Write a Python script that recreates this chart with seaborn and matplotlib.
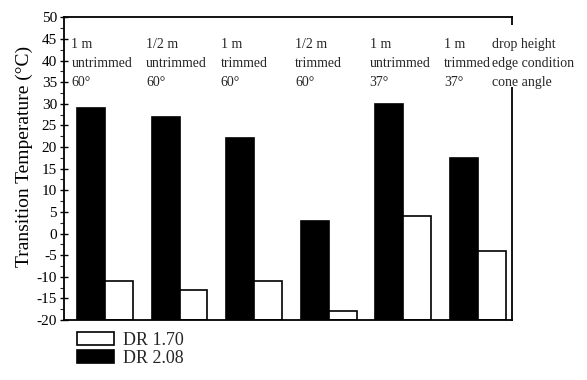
import matplotlib
matplotlib.use("Agg")
import matplotlib.pyplot as plt
from matplotlib.patches import Patch, Rectangle
from matplotlib.ticker import MultipleLocator
import pandas as pd
import seaborn as sns

# Test conditions (three header rows per test)
drop_height = ["1 m", "1/2 m", "1 m", "1/2 m", "1 m", "1 m"]
edge_condition = ["untrimmed", "untrimmed", "trimmed", "trimmed", "untrimmed", "trimmed"]
cone_angle = ["60°", "60°", "60°", "60°", "37°", "37°"]
header_labels = ["drop height", "edge condition", "cone angle"]

# Transition temperatures (°C)
dr_208 = [29, 27, 22, 3, 30, 17.5]
dr_170 = [-11, -13, -11, -18, 4, -4]
series_names = ["DR 2.08", "DR 1.70"]

tests = [f"{h} {e} {c}" for h, e, c in zip(drop_height, edge_condition, cone_angle)]
df = pd.DataFrame({
    "test": tests * 2,
    "DR": [series_names[0]] * len(tests) + [series_names[1]] * len(tests),
    "temp": dr_208 + dr_170,
})

sns.set_theme(style="white")
plt.rcParams["font.family"] = ["Liberation Serif", "DejaVu Serif"]
plt.rcParams["axes.unicode_minus"] = False

BASE = -20

fig = plt.figure(figsize=(5.87, 3.80), dpi=100)
ax = fig.add_axes([64 / 587, 1 - 320 / 380, (512 - 64) / 587, (320 - 17.3) / 380])

sns.barplot(
    data=df, x="test", y="temp", hue="DR", order=tests, hue_order=series_names,
    palette={"DR 2.08": "black", "DR 1.70": "white"},
    edgecolor="black", linewidth=1.2, width=0.75, gap=0,
    errorbar=None, legend=False, ax=ax,
)

# Bars rise from the bottom of the scale rather than from zero
for p in ax.patches:
    top = p.get_y() + p.get_height()
    p.set_y(BASE)
    p.set_height(top - BASE)

ax.set_ylim(-20, 50)
ax.set_xlim(-0.55, 5.46)
ax.yaxis.set_major_locator(MultipleLocator(5))
ax.yaxis.set_minor_locator(MultipleLocator(2.5))
ax.tick_params(axis="y", which="major", direction="inout", length=6, width=1,
               labelsize=11, left=True, pad=2, color="black", labelcolor="black")
ax.tick_params(axis="y", which="minor", direction="out", length=3, width=0.8, left=True)
ax.set_xticks([])
ax.set_xlabel("")
ax.set_ylabel("Transition Temperature (°C)", fontsize=14, labelpad=3, color="black")
ax.yaxis.label.set_y(0.54)

for s in ax.spines.values():
    s.set_color("black")
    s.set_linewidth(1.3)

# Condition headers above each pair of bars
line_y = [43.6, 39.4, 35.0]
for i, (h, e, c) in enumerate(zip(drop_height, edge_condition, cone_angle)):
    for txt, y in zip((h, e, c), line_y):
        ax.text(i - 0.45, y, txt, fontsize=10, va="center", ha="left", zorder=5)

# Row header column, drawn over the right frame
ax.add_patch(Rectangle((0.99, (33.9 - BASE) / 70), 0.02, (48.2 - 33.9) / 70,
                       transform=ax.transAxes, facecolor="white", edgecolor="none",
                       zorder=4, clip_on=False))
for txt, y in zip(header_labels, line_y):
    ax.text(5.19, y, txt, fontsize=10, va="center", ha="left", zorder=5, clip_on=False)

handles = [Patch(facecolor="white", edgecolor="black", linewidth=1.2),
           Patch(facecolor="black", edgecolor="black", linewidth=1.2)]
fig.legend(handles, [series_names[1], series_names[0]], loc="upper left",
           bbox_to_anchor=(77 / 587, 1 - 332 / 380), frameon=False, fontsize=13,
           handlelength=2.05, handleheight=0.75, labelspacing=0.05,
           handletextpad=0.5, borderpad=0, borderaxespad=0)

fig.savefig("out.png", dpi=100, facecolor="white")
